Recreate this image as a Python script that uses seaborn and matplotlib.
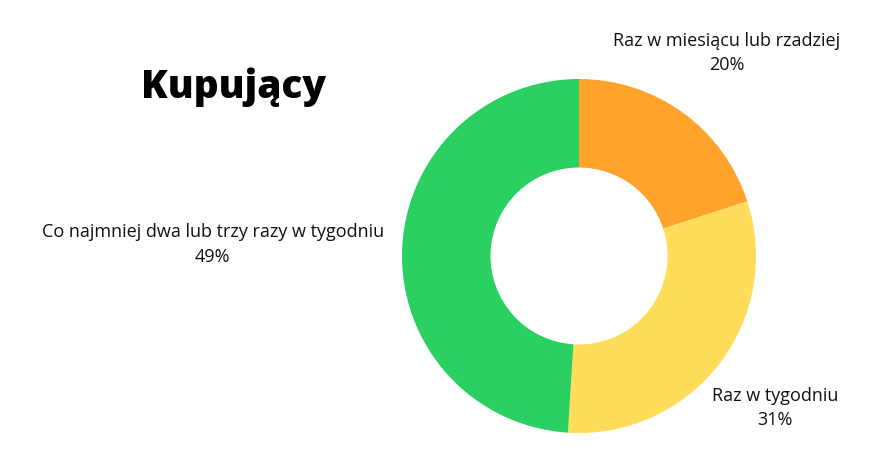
import numpy as np
import matplotlib
matplotlib.use("Agg")
import matplotlib.pyplot as plt
import seaborn as sns

# dane
categories = ["Raz w miesiącu lub rzadziej", "Raz w tygodniu",
              "Co najmniej dwa lub trzy razy w tygodniu"]
shares = [20, 31, 49]
colors = ["#FFA32B", "#FFDC5A", "#2AD062"]
title = "Kupujący"

sns.set_theme(style="white")
plt.rcParams['font.family'] = ['Open Sans', 'DejaVu Sans']

W, H = 879, 467
fig = plt.figure(figsize=(W / 100, H / 100), dpi=100)
fig.patch.set_facecolor("white")

# pozycja pierścienia w pikselach
cx, cy, r = 579, 256, 177
ax = fig.add_axes([(cx - r) / W, (H - cy - r) / H, 2 * r / W, 2 * r / H])
wedges, _ = ax.pie(shares, colors=sns.color_palette(colors), startangle=90,
                   counterclock=False, radius=1,
                   wedgeprops=dict(width=0.5, linewidth=0))
ax.set_xlim(-1, 1)
ax.set_ylim(-1, 1)
ax.set_aspect("equal")
ax.axis("off")

# etykiety w środku kąta wycinka
dists = [1.42, 1.40, 2.07]
for w, cat, val, d in zip(wedges, categories, shares, dists):
    ang = np.deg2rad((w.theta1 + w.theta2) / 2)
    ax.text(d * np.cos(ang), d * np.sin(ang), f"{cat}\n{val}%",
            ha="center", va="center", fontsize=13, color="#111111",
            linespacing=1.45, clip_on=False)

fig.text(233 / W, 1 - 87 / H, title, ha="center", va="center",
         fontsize=28, fontweight="heavy", color="black")

fig.savefig("out.png", dpi=100, facecolor="white")
